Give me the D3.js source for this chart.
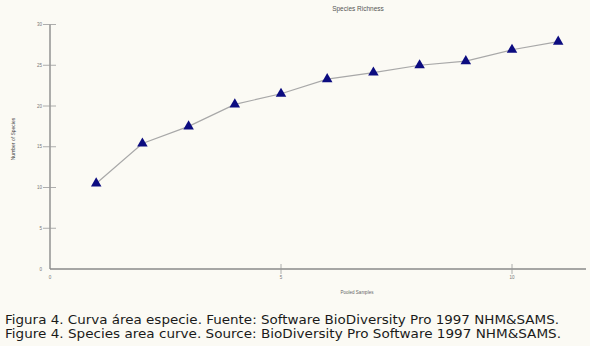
<!DOCTYPE html>
<html>
<head>
<meta charset="utf-8">
<script src="https://cdn.jsdelivr.net/npm/d3@7"></script>
<style>
  html, body { margin: 0; padding: 0; background: #fbfaf4; }
  svg { display: block; }
</style>
</head>
<body>
<svg id="chart" width="590" height="346"></svg>
<script>
// Pooled samples (x) and cumulative species richness (y)
const samples = [1, 2, 3, 4, 5, 6, 7, 8, 9, 10, 11];
const richness = [10.5, 15.4, 17.5, 20.2, 21.5, 23.3, 24.1, 25.0, 25.5, 26.9, 27.9];
const yTicks = [0, 5, 10, 15, 20, 25, 30];
const xTicks = [0, 5, 10];
const captionLines = [
  "Figura 4. Curva área especie. Fuente: Software BioDiversity Pro 1997 NHM&SAMS.",
  "Figure 4. Species area curve. Source: BioDiversity Pro Software 1997 NHM&SAMS."
];
const captionWidths = [554, 556];

const svg = d3.select("#chart");
const axisColor = "#8a8a8a";

const x = d3.scaleLinear().domain([0, 10]).range([50, 512]);
const y = d3.scaleLinear().domain([0, 30]).range([269, 24.5]);

const g = svg.append("g");

// Y axis: line, ticks crossing the axis, tiny labels
g.append("line")
  .attr("x1", x(0)).attr("x2", x(0))
  .attr("y1", y(30)).attr("y2", y(0))
  .attr("stroke", axisColor).attr("stroke-width", 1.4);
g.selectAll(".ytick").data(yTicks.filter(d => d > 0)).join("line")
  .attr("x1", x(0) - 7).attr("x2", x(0) + 6)
  .attr("y1", d => y(d)).attr("y2", d => y(d))
  .attr("stroke", "#9a9a9a").attr("stroke-width", 0.8);
g.selectAll(".ylab").data(yTicks).join("text")
  .attr("x", x(0) - 8).attr("y", d => y(d) + 1.5)
  .attr("text-anchor", "end")
  .attr("font-family", "Liberation Sans, Arial, sans-serif")
  .attr("font-size", 4.5).attr("fill", "#777")
  .text(d => d);

// X axis
g.append("line")
  .attr("x1", x(0)).attr("x2", 586)
  .attr("y1", y(0)).attr("y2", y(0))
  .attr("stroke", axisColor).attr("stroke-width", 1.4);
g.selectAll(".xtick").data(xTicks.filter(d => d > 0)).join("line")
  .attr("x1", d => x(d)).attr("x2", d => x(d))
  .attr("y1", y(0) - 5).attr("y2", y(0) + 5)
  .attr("stroke", "#9a9a9a").attr("stroke-width", 0.8);
g.selectAll(".xlab").data(xTicks).join("text")
  .attr("x", d => x(d)).attr("y", y(0) + 10)
  .attr("text-anchor", "middle")
  .attr("font-family", "Liberation Sans, Arial, sans-serif")
  .attr("font-size", 4.5).attr("fill", "#777")
  .text(d => d);

// Titles
g.append("text")
  .attr("x", 358).attr("y", 11)
  .attr("text-anchor", "middle")
  .attr("font-family", "Liberation Sans, Arial, sans-serif")
  .attr("font-size", 6.5).attr("fill", "#555")
  .text("Species Richness");
g.append("text")
  .attr("x", 357).attr("y", 294)
  .attr("text-anchor", "middle")
  .attr("font-family", "Liberation Sans, Arial, sans-serif")
  .attr("font-size", 4.5).attr("fill", "#666")
  .text("Pooled Samples");
g.append("text")
  .attr("transform", "translate(15,139) rotate(-90)")
  .attr("text-anchor", "middle")
  .attr("font-family", "Liberation Sans, Arial, sans-serif")
  .attr("font-size", 5).attr("fill", "#444")
  .text("Number of Species");

// Curve and markers
const pts = samples.map((s, i) => [s, richness[i]]);
g.append("path")
  .datum(pts)
  .attr("fill", "none")
  .attr("stroke", "#a8a8a8").attr("stroke-width", 1.2)
  .attr("d", d3.line().x(d => x(d[0])).y(d => y(d[1])));
g.selectAll(".pt").data(pts).join("path")
  .attr("transform", d => `translate(${x(d[0])},${y(d[1])})`)
  .attr("d", d3.symbol().type(d3.symbolTriangle).size(48))
  .attr("fill", "#0c0c80");

// Caption
svg.selectAll(".cap").data(captionLines).join("text")
  .attr("x", 5).attr("y", (d, i) => 324 + i * 14)
  .attr("font-family", "DejaVu Sans, Verdana, sans-serif")
  .attr("font-size", 12.5).attr("fill", "#1a1a1a")
  .attr("textLength", (d, i) => captionWidths[i])
  .attr("lengthAdjust", "spacingAndGlyphs")
  .text(d => d);
</script>
</body>
</html>
